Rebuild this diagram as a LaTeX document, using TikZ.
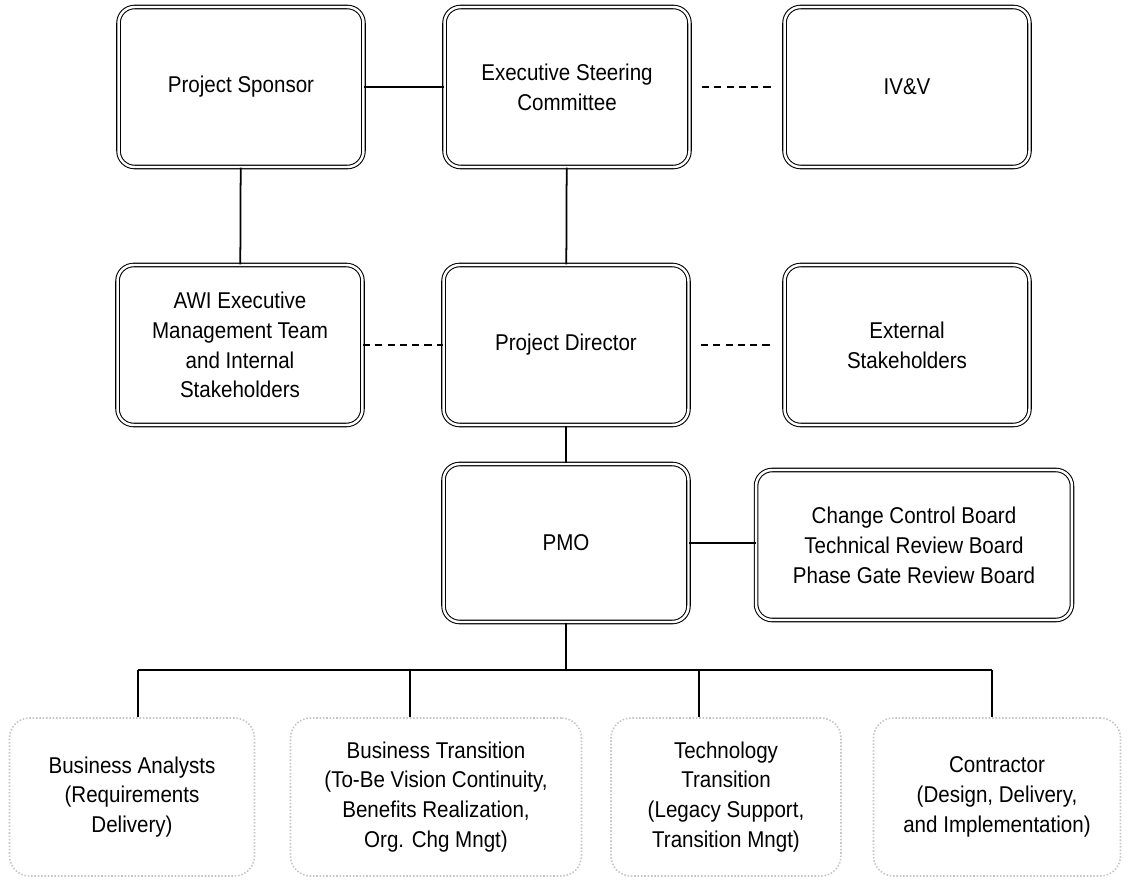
\documentclass[tikz,border=0pt]{standalone}
\usepackage{fontspec}
\setmainfont{Liberation Sans}[FakeStretch=0.9]
\usetikzlibrary{positioning}
\tikzset{
orgbox/.style={
  draw=black,
  line width=0.6pt,
  double,
  double distance=1.4pt,
  rounded corners=0.32cm,
  align=center,
  minimum width=4.9cm,
  minimum height=3.2cm,
  font=\fontsize{13}{17}\selectfont
  },
teambox/.style={
  draw=gray!45,
  line width=0.9pt,
  densely dotted,
  rounded corners=0.4cm,
  align=center,
  minimum height=3.16cm,
  font=\fontsize{13}{17}\selectfont
  },
link/.style={line width=1pt},
dlink/.style={line width=1pt, dash pattern=on 4pt off 3pt}
}

\begin{document}
\begin{tikzpicture}[x=0.02cm,y=-0.02cm]
\useasboundingbox (0,0) rectangle (1127,882);

% top row
\node[orgbox] (sponsor) at (241,87) {Project Sponsor};
\node[orgbox] (steering) at (567,87) {Executive Steering\\Committee};
\node[orgbox] (ivv) at (907,87) {IV\&V};

% middle row
\node[orgbox] (awi) at (240,345) {AWI Executive\\Management Team\\and Internal\\Stakeholders};
\node[orgbox] (director) at (566,345) {Project Director};
\node[orgbox] (external) at (907,345) {External\\Stakeholders};

% pmo row
\node[orgbox,minimum height=3.16cm] (pmo) at (566,543) {PMO};
\node[orgbox,minimum width=6.32cm,minimum height=3.0cm] (boards) at (914,545)
  {Change Control Board\\Technical Review Board\\Phase Gate Review Board};

% teams
\node[teambox,minimum width=4.9cm] (analysts) at (132,797)
  {Business Analysts\\(Requirements\\Delivery)};
\node[teambox,minimum width=5.82cm] (bustrans) at (436,797)
  {Business Transition\\(To-Be Vision Continuity,\\Benefits Realization,\\Org. Chg Mngt)};
\node[teambox,minimum width=4.6cm] (techtrans) at (726,797)
  {Technology\\Transition\\(Legacy Support,\\Transition Mngt)};
\node[teambox,minimum width=4.94cm] (contractor) at (997,797)
  {Contractor\\(Design, Delivery,\\and Implementation)};

\draw[link] (sponsor) -- (steering);
\draw[link] (sponsor) -- (awi);
\draw[link] (steering) -- (director);
\draw[link] (director) -- (pmo);
\draw[link] (pmo.east) -- (pmo.east -| boards.west);

\draw[dlink,shorten <=0.24cm,shorten >=0.24cm] (steering) -- (ivv);
\draw[dlink] (awi) -- (director);
\draw[dlink,shorten <=0.24cm,shorten >=0.24cm] (director) -- (external);

% bus to the teams
\begin{scope}
\coordinate (bus) at (566,670);
\coordinate (drop1) at (138,670);
\coordinate (drop2) at (410,670);
\coordinate (drop3) at (699,670);
\coordinate (drop4) at (992,670);

\draw[link] (pmo.south) -- (bus);
\draw[link] (drop1) -- (drop4);
\draw[link] (drop1) -- (drop1 |- analysts.north);
\draw[link] (drop2) -- (drop2 |- bustrans.north);
\draw[link] (drop3) -- (drop3 |- techtrans.north);
\draw[link] (drop4) -- (drop4 |- contractor.north);
\end{scope}

\end{tikzpicture}
\end{document}
